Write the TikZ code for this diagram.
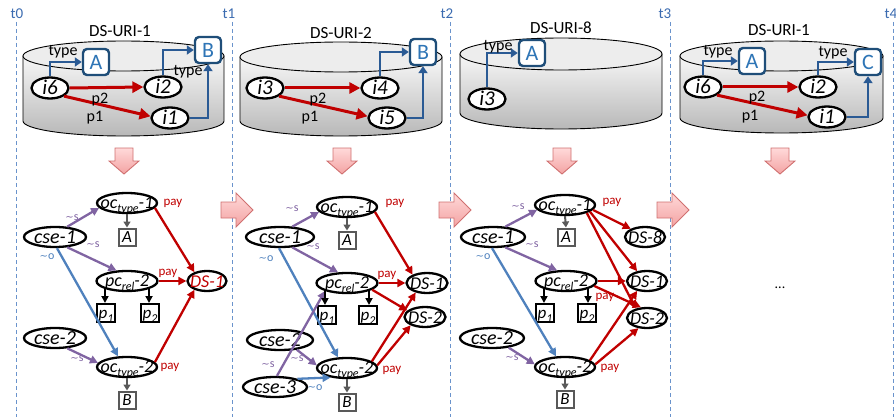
\documentclass[tikz,border=0pt]{standalone}
\usepackage{fontspec}
\setmainfont{Carlito}
\newfontfamily\symfont{DejaVu Sans}
\usetikzlibrary{arrows.meta,shapes.geometric}
\definecolor{tblue}{HTML}{3B6BB0}
\definecolor{dashc}{HTML}{6A93CC}
\definecolor{boxblue}{HTML}{1F4E79}
\definecolor{letterblue}{HTML}{2E75B6}
\definecolor{arrblue}{HTML}{2A5A94}
\definecolor{cred}{HTML}{C00000}
\definecolor{cpurple}{HTML}{8064A2}
\definecolor{oblue}{HTML}{4F81BD}
\definecolor{graybox}{HTML}{595959}
\definecolor{cyltop}{HTML}{F7F7F7}
\definecolor{cylbot}{HTML}{B8B8B8}
\definecolor{cyllid}{HTML}{EDEDED}
\definecolor{pinktop}{HTML}{FFD9D9}
\definecolor{pinkbot}{HTML}{F3A3A3}
\definecolor{pinkedge}{HTML}{D07070}
\newcommand{\lb}[1]{\makebox[0pt]{\smash{\raisebox{-0.33em}{#1}}}}
\newcommand{\sbs}[1]{\raisebox{-0.22em}{\fontsize{12}{12}\selectfont #1}}
\newcommand{\ocl}[3]{\makebox[0pt]{\smash{\raisebox{-5.5pt}{\fontsize{18}{20}\selectfont #1\sbs{#2}-#3}}}}
\newcommand{\tld}[1]{{\symfont\raisebox{0.05em}{\fontsize{10}{10}\selectfont ∼}}#1}
\newcommand{\mycyl}[5]{%
  \pgfmathsetmacro{\ccx}{(#1+#2)/2}%
  \pgfmathsetmacro{\crx}{(#2-#1)/2}%
  \shade[top color=cyltop, bottom color=cylbot, draw=black, line width=0.9]
    (#1,#3) -- (#1,#4) .. controls (#1,{#4+0.552*#5}) and ({\ccx-0.552*\crx},{#4+#5}) .. (\ccx,{#4+#5})
    .. controls ({\ccx+0.552*\crx},{#4+#5}) and (#2,{#4+0.552*#5}) .. (#2,#4) -- (#2,#3) -- cycle;
  \draw[fill=cyllid, line width=0.9] (\ccx,#3) ellipse [x radius=\crx pt, y radius=#5 pt];
}
\newcommand{\rightblock}[2]{%
  \shade[top color=pinktop, bottom color=pinkbot, draw=pinkedge, line width=0.9]
    (#1,{#2-8}) -- ({#1+15},{#2-8}) -- ({#1+15},{#2-17}) -- ({#1+32},#2) -- ({#1+15},{#2+17}) -- ({#1+15},{#2+8}) -- (#1,{#2+8}) -- cycle;
}
\newcommand{\downblock}[2]{%
  \shade[top color=pinktop, bottom color=pinkbot, draw=pinkedge, line width=0.9]
    ({#1-9},#2) -- ({#1+9},#2) -- ({#1+9},{#2+13}) -- ({#1+15},{#2+13}) -- (#1,{#2+26}) -- ({#1-15},{#2+13}) -- ({#1-9},{#2+13}) -- cycle;
}
\tikzset{
  cnode/.style={ellipse, draw=black, line width=2.3, fill=white, inner sep=0, minimum width=37, minimum height=21, font=\fontsize{21}{22}\selectfont\itshape},
  gnode/.style={ellipse, draw=black, line width=2.3, fill=white, inner sep=0, minimum height=20, font=\fontsize{20}{21}\selectfont\itshape},
  bbox/.style={rectangle, rounded corners=4, draw=boxblue, line width=2.4, fill=white, minimum size=26, inner sep=0, text=letterblue, font=\fontsize{22}{22}\selectfont},
  gbox/.style={rectangle, draw=graybox, line width=2, fill=white, minimum size=17, inner sep=0, font=\fontsize{17}{18}\selectfont\itshape},
  pbox/.style={rectangle, draw=black, line width=2, fill=white, minimum size=18, inner sep=0, font=\fontsize{17}{18}\selectfont\itshape},
  barr/.style={draw=arrblue, line width=2.8, -{Triangle[length=7,width=9]}},
  rarr/.style={draw=cred, line width=3, -{Triangle[length=11,width=11]}},
  parr/.style={draw=cpurple, line width=2.3, -{Triangle[length=8,width=8]}},
  oarr/.style={draw=oblue, line width=2.3, -{Triangle[length=8,width=8]}},
  redarr/.style={draw=cred, line width=2.3, -{Triangle[length=8,width=8]}},
  garr/.style={draw=graybox, line width=2, -{Triangle[length=6,width=7]}},
  karr/.style={draw=black, line width=2, -{Triangle[length=7,width=7]}},
  plab/.style={font=\fontsize{16}{16}\selectfont, inner sep=0},
  tylab/.style={font=\fontsize{16}{16}\selectfont, inner sep=0},
  dslab/.style={font=\fontsize{17}{18}\selectfont, inner sep=0},
  tlab/.style={text=tblue, font=\fontsize{15}{16}\selectfont, inner sep=0},
  slab/.style={text=cpurple, font=\fontsize{12}{12}\selectfont, inner sep=0},
  olab/.style={text=oblue, font=\fontsize{12}{12}\selectfont, inner sep=0},
  paylab/.style={text=cred, font=\fontsize{13}{13}\selectfont, inner sep=0},
  tline/.style={draw=dashc, line width=1, dash pattern=on 4pt off 3pt},
}
\begin{document}
\begin{tikzpicture}[x=1pt,y=-1pt]
\useasboundingbox (0,0) rectangle (896,417);
% time lines
\foreach \xx/\tt/\lx in {16/t0/17, 232/t1/229, 450/t2/447, 670/t3/665, 893/t4/891}{
  \draw[tline] (\xx,22) -- (\xx,417);
  \node[tlab] (lab\tt) at (\lx,14) {\tt};
}
% ---------- cylinders ----------
\mycyl{23}{224}{56}{121}{15}
\mycyl{240}{442}{57}{121}{15}
\mycyl{460}{662}{54}{113}{16}
\mycyl{680}{883}{56}{118}{15}
\node[dslab] (ds1t) at (120,31) {DS-URI-1};
\node[dslab] (ds2t) at (341,33) {DS-URI-2};
\node[dslab] (ds3t) at (561,28) {DS-URI-8};
\node[dslab] (ds4t) at (779,30) {DS-URI-1};
% panel 1 cylinder
\node[cnode] (ai6) at (50,88) {\lb{i6}};
\node[cnode] (ai2) at (163,87) {\lb{i2}};
\node[cnode] (ai1) at (170,118) {\lb{i1}};
\node[bbox] (aA) at (96,62) {\lb{A}};
\node[bbox] (aB) at (208,50) {\lb{B}};
\draw[barr] (ai6.north) |- (aA.west);
\draw[barr] (ai2.north) |- (aB.west);
\draw[barr] (ai1.east) -| (aB.south);
\draw[rarr] (ai6.east) -- (ai2.west);
\draw[rarr] (ai6.-30) -- (ai1.175);
\node[tylab] (aty1) at (63,52) {type};
\node[tylab] (aty2) at (188,72) {type};
\node[plab] (ap2) at (100,100) {p2};
\node[plab] (ap1) at (95,118) {p1};
% panel 2 cylinder
\node[cnode] (bi3) at (265,88) {\lb{i3}};
\node[cnode] (bi4) at (380,88) {\lb{i4}};
\node[cnode] (bi5) at (387,118) {\lb{i5}};
\node[bbox] (bB) at (423,52) {\lb{B}};
\draw[barr] (bi4.north) |- (bB.west);
\draw[barr] (bi5.east) -| (bB.south);
\draw[rarr] (bi3.east) -- (bi4.west);
\draw[rarr] (bi3.-30) -- (bi5.175);
\node[plab] (bp2) at (318,100) {p2};
\node[plab] (bp1) at (310,118) {p1};
% panel 3 cylinder
\node[cnode] (ci3) at (487,99) {\lb{i3}};
\node[bbox] (cA) at (532,53) {\lb{A}};
\draw[barr] (ci3.north) |- (cA.west);
\node[tylab] (cty) at (498,47) {type};
% panel 4 cylinder
\node[cnode] (di6) at (703,87) {\lb{i6}};
\node[cnode] (di2) at (818,87) {\lb{i2}};
\node[cnode] (di1) at (827,117) {\lb{i1}};
\node[bbox] (dA) at (752,61) {\lb{A}};
\node[bbox] (dC) at (868,62) {\lb{C}};
\draw[barr] (di6.north) |- (dA.west);
\draw[barr] (di2.north) |- (dC.west);
\draw[barr] (di1.east) -| (dC.south);
\draw[rarr] (di6.east) -- (di2.west);
\draw[rarr] (di6.-30) -- (di1.175);
\node[tylab] (dty1) at (718,52) {type};
\node[tylab] (dty2) at (833,53) {type};
\node[plab] (dp2) at (757,98) {p2};
\node[plab] (dp1) at (750,117) {p1};
% ---------- block arrows ----------
\downblock{124}{148}
\downblock{342}{148}
\downblock{562}{148}
\downblock{780}{148}
\rightblock{221}{210}
\rightblock{439}{210}
\rightblock{657}{210}
% ---------- panel 1 graph ----------
\node[gnode, minimum width=62] (ecse1) at (55,237) {\lb{cse-1}};
\node[gnode, minimum width=60] (eoc1) at (127,203) {\ocl{oc}{type}{1}};
\node[gbox] (eA) at (127,237) {\lb{A}};
\node[gnode, minimum width=61] (epc) at (127,281) {\ocl{pc}{rel}{2}};
\node[gnode, minimum width=39] (eds1) at (207,281) {\lb{\fontsize{18}{20}\selectfont\textcolor{cred}{DS-1}}};
\node[pbox] (ep1) at (106,313) {\lb{p\sbs{1}}};
\node[pbox] (ep2) at (150,313) {\lb{p\sbs{2}}};
\node[gnode, minimum width=62] (ecse2) at (55,338) {\lb{cse-2}};
\node[gnode, minimum width=60] (eoc2) at (127,367) {\ocl{oc}{type}{2}};
\node[gbox] (eB) at (127,400) {\lb{B}};
\draw[parr] (ecse1.40) -- (eoc1.190);
\draw[parr] (ecse1.-40) -- (epc.135);
\draw[oarr] (ecse1.-80) -- (eoc2.130);
\draw[parr] (ecse2.-40) -- (eoc2.172);
\draw[garr] (eoc1.south) -- (eA.north);
\draw[garr] (eoc2.south) -- (eB.north);
\draw[karr] (epc.-160) -- (epc.-160 |- ep1.north);
\draw[karr] (epc.-20) -- (epc.-20 |- ep2.north);
\draw[redarr] (eoc1.-10) -- (eds1.145);
\draw[redarr] (epc.east) -- (eds1.west);
\draw[redarr] (eoc2.10) -- (eds1.-145);
\node[slab] (es1) at (72,218) {\tld{s}};
\node[slab] (es2) at (93,245) {\tld{s}};
\node[olab] (eo1) at (47,257) {\tld{o}};
\node[slab] (es3) at (77,359) {\tld{s}};
\node[paylab] (epay1) at (173,203) {pay};
\node[paylab] (epay2) at (168,273) {pay};
\node[paylab] (epay3) at (170,367) {pay};
% ---------- panel 2 graph ----------
\node[gnode, minimum width=68] (fcse1) at (280,237) {\lb{cse-1}};
\node[gnode, minimum width=60] (foc1) at (347,207) {\ocl{oc}{type}{1}};
\node[gbox] (fA) at (347,240) {\lb{A}};
\node[gnode, minimum width=61] (fpc) at (347,283) {\ocl{pc}{rel}{2}};
\node[gnode, minimum width=41] (fds1) at (427,283) {\lb{\fontsize{18}{20}\selectfont DS-1}};
\node[gnode, minimum width=41] (fds2) at (425,317) {\lb{\fontsize{18}{20}\selectfont DS-2}};
\node[pbox] (fp1) at (327,315) {\lb{p\sbs{1}}};
\node[pbox] (fp2) at (368,315) {\lb{p\sbs{2}}};
\node[gnode, minimum width=66] (fcse2) at (280,340) {\lb{cse-2}};
\node[gnode, minimum width=64] (fcse3) at (275,387) {\lb{cse-3}};
\node[gnode, minimum width=60] (foc2) at (347,368) {\ocl{oc}{type}{2}};
\node[gbox] (fB) at (347,402) {\lb{B}};
\draw[parr] (fcse1.40) -- (foc1.190);
\draw[parr] (fcse1.-40) -- (fpc.130);
\draw[oarr] (fcse1.-95) -- (foc2.130);
\draw[parr] (fcse3.80) -- (fpc.-160);
\draw[parr] (fcse2.-30) -- (foc2.175);
\draw[oarr] (fcse3.20) -- (foc2.-150);
\draw[garr] (foc1.south) -- (fA.north);
\draw[garr] (foc2.south) -- (fB.north);
\draw[karr] (fpc.-160) -- (fpc.-160 |- fp1.north);
\draw[karr] (fpc.-20) -- (fpc.-20 |- fp2.north);
\draw[redarr] (foc1.-10) -- (fds1.150);
\draw[redarr] (fpc.east) -- (fds1.west);
\draw[redarr] (fpc.-15) -- (fds2.160);
\draw[redarr] (foc2.15) -- (fds1.-140);
\draw[redarr] (foc2.5) -- (fds2.-150);
\node[slab] (fs1) at (292,209) {\tld{s}};
\node[slab] (fs2) at (313,247) {\tld{s}};
\node[olab] (fo1) at (266,259) {\tld{o}};
\node[slab] (fs3) at (268,365) {\tld{s}};
\node[slab] (fs4) at (297,359) {\tld{s}};
\node[olab] (fo2) at (315,388) {\tld{o}};
\node[paylab] (fpay1) at (395,203) {pay};
\node[paylab] (fpay2) at (387,275) {pay};
\node[paylab] (fpay3) at (392,370) {pay};
% ---------- panel 3 graph ----------
\node[gnode, minimum width=64] (gcse1) at (493,237) {\lb{cse-1}};
\node[gnode, minimum width=60] (goc1) at (565,205) {\ocl{oc}{type}{1}};
\node[gbox] (gA) at (566,237) {\lb{A}};
\node[gnode, minimum width=40] (gds8) at (645,237) {\lb{\fontsize{18}{20}\selectfont DS-8}};
\node[gnode, minimum width=61] (gpc) at (566,281) {\ocl{pc}{rel}{2}};
\node[gnode, minimum width=40] (gds1) at (647,281) {\lb{\fontsize{18}{20}\selectfont DS-1}};
\node[gnode, minimum width=40] (gds2) at (647,318) {\lb{\fontsize{18}{20}\selectfont DS-2}};
\node[pbox] (gp1) at (545,313) {\lb{p\sbs{1}}};
\node[pbox] (gp2) at (587,313) {\lb{p\sbs{2}}};
\node[gnode, minimum width=64] (gcse2) at (492,338) {\lb{cse-2}};
\node[gnode, minimum width=60] (goc2) at (565,367) {\ocl{oc}{type}{2}};
\node[gbox] (gB) at (565,399) {\lb{B}};
\draw[parr] (gcse1.40) -- (goc1.190);
\draw[parr] (gcse1.-40) -- (gpc.130);
\draw[oarr] (gcse1.-95) -- (goc2.130);
\draw[parr] (gcse2.-30) -- (goc2.175);
\draw[garr] (goc1.south) -- (gA.north);
\draw[garr] (goc2.south) -- (gB.north);
\draw[karr] (gpc.-160) -- (gpc.-160 |- gp1.north);
\draw[karr] (gpc.-20) -- (gpc.-20 |- gp2.north);
\draw[redarr] (goc1.-10) -- (gds8.150);
\draw[redarr] (goc1.-15) -- (gds1.135);
\draw[redarr] (goc1.-20) -- (gds2.140);
\draw[redarr] (gpc.east) -- (gds1.west);
\draw[redarr] (gpc.-10) -- (gds2.120);
\draw[redarr] (goc2.15) -- (gds1.-135);
\draw[redarr] (goc2.5) -- (gds2.-130);
\node[slab] (gs1) at (518,207) {\tld{s}};
\node[slab] (gs2) at (532,245) {\tld{s}};
\node[olab] (go1) at (483,257) {\tld{o}};
\node[slab] (gs3) at (512,358) {\tld{s}};
\node[paylab] (gpay1) at (612,202) {pay};
\node[paylab] (gpay2) at (605,297) {pay};
\node[paylab] (gpay3) at (610,368) {pay};
% ---------- panel 4 ----------
\node[font=\fontsize{14}{16}\selectfont, inner sep=0] (hdots) at (780,288) {...};
\end{tikzpicture}
\end{document}
